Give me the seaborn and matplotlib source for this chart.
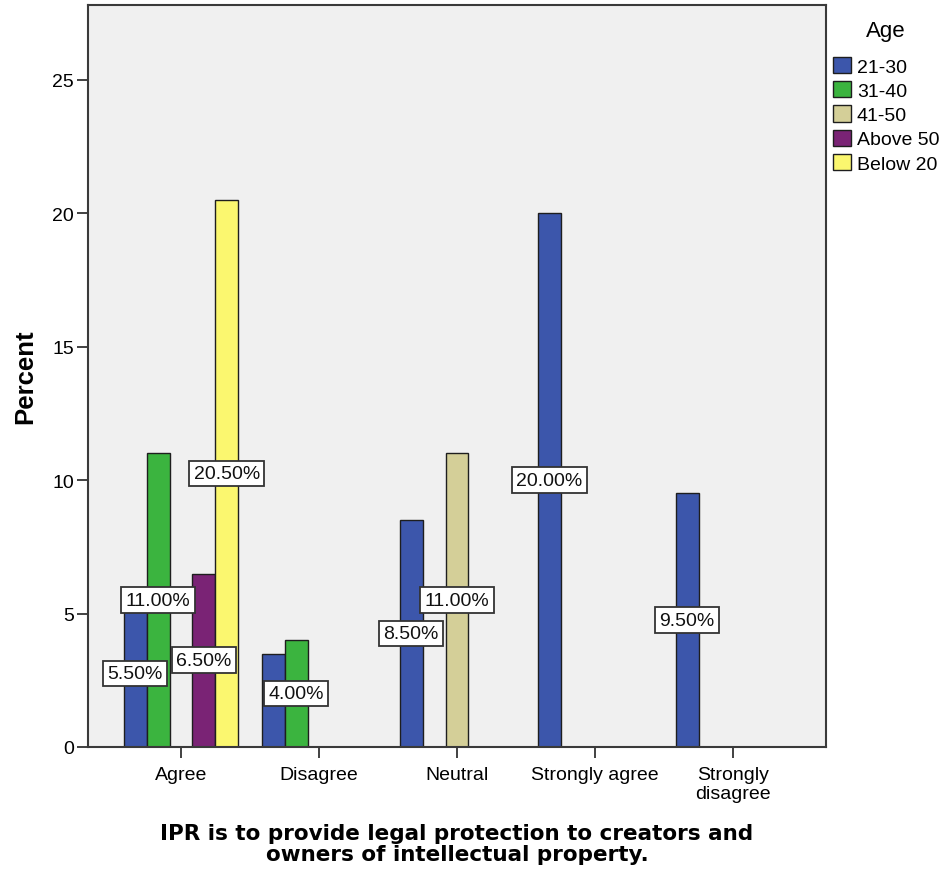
import matplotlib
matplotlib.use("Agg")
import matplotlib.pyplot as plt
import seaborn as sns
import pandas as pd
from matplotlib.patches import Patch

# Survey responses and age-group percentages
responses = ["Agree", "Disagree", "Neutral", "Strongly agree", "Strongly disagree"]
response_ticks = ["Agree", "Disagree", "Neutral", "Strongly agree", "Strongly\ndisagree"]
age_groups = ["21-30", "31-40", "41-50", "Above 50", "Below 20"]
pct_21_30 = [5.5, 3.5, 8.5, 20.0, 9.5]
pct_31_40 = [11.0, 4.0, None, None, None]
pct_41_50 = [None, None, 11.0, None, None]
pct_above_50 = [6.5, None, None, None, None]
pct_below_20 = [20.5, None, None, None, None]
# value labels that are left out because they would sit under another label
hidden_labels = [("Disagree", "21-30")]

age_colors = ["#3C56AB", "#3BB43F", "#D4CF98", "#7A2375", "#FBF76F"]

series = [pct_21_30, pct_31_40, pct_41_50, pct_above_50, pct_below_20]
rows = []
for age, vals in zip(age_groups, series):
    for resp, v in zip(responses, vals):
        if v is not None:
            rows.append({"response": resp, "age": age, "percent": v})
df = pd.DataFrame(rows)

sns.set_style("white")
plt.rcParams["font.family"] = ["Liberation Sans", "DejaVu Sans"]
for key in ("text.color", "axes.labelcolor", "xtick.labelcolor", "ytick.labelcolor"):
    plt.rcParams[key] = "#000000"

fig = plt.figure(figsize=(9.44, 8.79), dpi=100)
ax = fig.add_axes([88 / 944, 1 - 748 / 879, (826 - 88) / 944, (748 - 6) / 879])
ax.set_facecolor("#F0F0F0")

palette = dict(zip(age_groups, age_colors))
sns.barplot(data=df, x="response", y="percent", hue="age",
            order=responses, hue_order=age_groups, palette=palette,
            width=0.83, saturation=1, edgecolor="#1E1E1E", linewidth=1.0,
            errorbar=None, ax=ax, legend=False)

# value labels in the middle of each bar
for age, container in zip(age_groups, ax.containers):
    labels = []
    for bar in container:
        idx = int(round(bar.get_x() + bar.get_width() / 2))
        h = bar.get_height()
        if (responses[idx], age) in hidden_labels or h != h:
            labels.append("")
        else:
            labels.append(f"{h:.2f}%")
    ax.bar_label(container, labels=labels, label_type="center", fontsize=14,
                 color="#111111",
                 bbox=dict(boxstyle="square,pad=0.22", facecolor="white",
                           edgecolor="#333333", linewidth=1.3))

ax.set_xlim(-0.674, 4.674)
ax.set_ylim(0, 27.8)
ax.set_yticks([0, 5, 10, 15, 20, 25])
ax.set_xticks(range(len(responses)))
ax.set_xticklabels(response_ticks, fontsize=14, linespacing=1.15)
ax.tick_params(axis="y", labelsize=14, pad=2)
ax.tick_params(axis="x", pad=6)
ax.tick_params(axis="both", direction="out", length=8, width=1.3,
               color="#333333", bottom=True, left=True)

for s in ax.spines.values():
    s.set_visible(True)
    s.set_color("#3A3A3A")
    s.set_linewidth(1.5)

ax.set_ylabel("Percent", fontsize=18.5, fontweight="bold", labelpad=11)
ax.set_xlabel("IPR is to provide legal protection to creators and\nowners of intellectual property.",
              fontsize=15.5, fontweight="bold", family=["DejaVu Sans"],
              labelpad=15, linespacing=1.05)

# legend: title placed separately above the colour keys
fig.text(886 / 944, 1 - 31 / 879, "Age", ha="center", va="center", fontsize=16)
handles = [Patch(facecolor=c, edgecolor="#1E1E1E", linewidth=1.0) for c in age_colors]
fig.legend(handles, age_groups, loc="upper left",
           bbox_to_anchor=(833 / 944, 1 - 58 / 879), frameon=False,
           fontsize=14, handlelength=0.93, handleheight=0.9,
           handletextpad=0.3, labelspacing=0.28, borderpad=0.0,
           borderaxespad=0.0)

fig.savefig("out.png", dpi=100, facecolor="white")
